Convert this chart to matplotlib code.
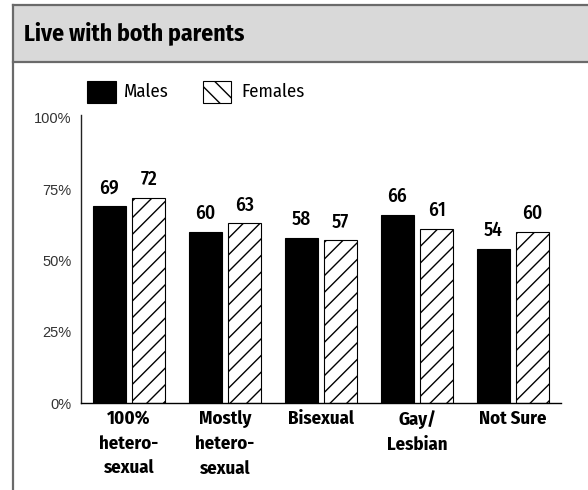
import matplotlib
matplotlib.use("Agg")
import matplotlib.pyplot as plt
from matplotlib.patches import Rectangle
from matplotlib.lines import Line2D
import numpy as np

categories = ["100%\nhetero-\nsexual", "Mostly\nhetero-\nsexual", "Bisexual", "Gay/\nLesbian", "Not Sure"]
males = [69, 60, 58, 66, 54]
females = [72, 63, 57, 61, 60]
yticks = [0, 25, 50, 75, 100]
ytick_labels = ["0%", "25%", "50%", "75%", "100%"]
title = "Live with both parents"

COND = ["Fira Sans Condensed", "Roboto Condensed", "DejaVu Sans"]
PLAIN = ["Liberation Sans", "DejaVu Sans"]
plt.rcParams["hatch.linewidth"] = 1.0

W, H = 588, 490
fig = plt.figure(figsize=(W / 100, H / 100), dpi=100)

# frame and header
fig.add_artist(Rectangle((13 / W, 1 - 62 / H), 1.2, (62 - 5) / H, transform=fig.transFigure,
                         facecolor="#d9d9d9", edgecolor="none", zorder=0))
fig.add_artist(Line2D([13 / W, 1], [1 - 5 / H, 1 - 5 / H], transform=fig.transFigure, color="#6a6a6a", lw=1.6))
fig.add_artist(Line2D([13 / W, 1], [1 - 62 / H, 1 - 62 / H], transform=fig.transFigure, color="#6a6a6a", lw=1.6))
fig.add_artist(Line2D([13 / W, 13 / W], [0, 1 - 5 / H], transform=fig.transFigure, color="#6a6a6a", lw=1.6))
fig.text(24 / W, 1 - 33 / H, title, fontsize=17, fontweight="bold", family=COND, va="center", ha="left")

ax = fig.add_axes([81 / W, (H - 403) / H, (561 - 81) / W, (403 - 115) / H])
x = np.arange(len(categories))
bw = 0.35
off = 0.205
ax.bar(x - off, males, bw, color="black", edgecolor="black", lw=0.8, zorder=2)
ax.bar(x + off, females, bw, color="white", edgecolor="black", lw=0.8, hatch="//", zorder=2)
for i in range(len(categories)):
    ax.text(x[i] - off, males[i] + 3, str(males[i]), ha="center", va="bottom", fontsize=14,
            fontweight="medium", family=COND)
    ax.text(x[i] + off, females[i] + 3, str(females[i]), ha="center", va="bottom", fontsize=14,
            fontweight="medium", family=COND)

ax.set_xlim(-0.5, len(categories) - 0.5)
ax.set_ylim(0, 101)
ax.set_yticks(yticks)
ax.set_yticklabels(ytick_labels, fontsize=10.5, color="#333333", family=PLAIN)
ax.tick_params(axis="y", length=0, pad=7)
ax.set_xticks(x)
ax.set_xticklabels(categories, fontsize=13.5, fontweight="bold", family=COND, linespacing=1.5)
ax.tick_params(axis="x", length=0, pad=5)
for s in ["top", "right"]:
    ax.spines[s].set_visible(False)
ax.spines["left"].set_linewidth(1.0)
ax.spines["bottom"].set_linewidth(1.0)
ax.spines["left"].set_color("#222222")

# legend
fig.add_artist(Rectangle((87 / W, 1 - 103 / H), 29 / W, 22 / H, transform=fig.transFigure,
                         facecolor="black", edgecolor="black", lw=0.8))
fig.text(124 / W, 1 - 92 / H, "Males", fontsize=13.5, family=COND, va="center", ha="left")
fig.add_artist(Rectangle((203 / W, 1 - 103 / H), 28 / W, 22 / H, transform=fig.transFigure,
                         facecolor="white", edgecolor="black", lw=0.8, hatch="\\\\"))
fig.text(241 / W, 1 - 92 / H, "Females", fontsize=13.5, family=COND, va="center", ha="left")

fig.savefig("out.png", dpi=100)
